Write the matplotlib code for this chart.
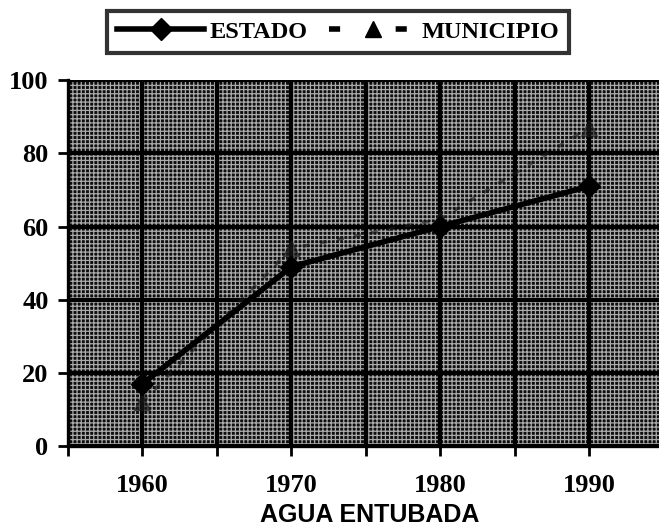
import matplotlib

matplotlib.use("Agg")
import matplotlib.pyplot as plt
from matplotlib.lines import Line2D
from matplotlib.patches import Rectangle
from matplotlib.ticker import FixedLocator, MultipleLocator

# values
years = [1960, 1970, 1980, 1990]
estado = [17, 49, 60, 71]
municipio = [12, 54, 62, 87]
year_labels = ["1960", "1970", "1980", "1990"]
y_ticks = [0, 20, 40, 60, 80, 100]

serif = "Liberation Serif"
plt.rcParams["hatch.linewidth"] = 0.9

fig = plt.figure(figsize=(6.59, 5.31), dpi=100)
fig.patch.set_facecolor("white")
ax = fig.add_axes([0.1032, 0.160, 0.8968, 0.689])

# textured dark plot area (stands in for the scanned fill pattern)
ax.add_patch(
    Rectangle(
        (0, 0), 1, 1,
        transform=ax.transAxes,
        facecolor="#0e0e0e",
        edgecolor="#ababab",
        hatch="++++",
        linewidth=0,
        zorder=0,
    )
)

ax.plot(
    years, estado,
    color="black", linewidth=4, marker="D", markersize=11, zorder=4,
)
ax.plot(
    years, municipio,
    color="#1a1a1a", linewidth=2.5, linestyle=(0, (2, 3)), marker="^",
    markersize=12, alpha=0.6, zorder=3,
)

ax.set_xlim(1955, 1994.7)
ax.set_ylim(0, 100)
ax.xaxis.set_major_locator(FixedLocator(years))
ax.xaxis.set_minor_locator(MultipleLocator(5))
ax.set_xticklabels(year_labels)
ax.set_yticks(y_ticks)

ax.grid(True, which="both", axis="x", color="black", linewidth=3, zorder=1)
ax.grid(True, which="major", axis="y", color="black", linewidth=3, zorder=1)

for side in ("top", "right"):
    ax.spines[side].set_visible(False)
for side in ("left", "bottom"):
    ax.spines[side].set_linewidth(2.4)

ax.tick_params(axis="both", which="both", direction="out", length=7, width=2)
ax.tick_params(axis="x", which="major", pad=13)
ax.tick_params(axis="y", pad=7)
for lab in ax.get_xticklabels() + ax.get_yticklabels():
    lab.set_fontfamily(serif)
    lab.set_fontweight("bold")
    lab.set_fontsize(19)

ax.set_xlabel(
    "AGUA ENTUBADA", fontfamily="Liberation Sans", fontweight="bold",
    fontsize=18,
)
ax.xaxis.set_label_coords(0.51, -0.155)

# legend proxies: the printed key shows one short dash each side of the triangle
handles = [
    Line2D([], [], color="black", linewidth=4, marker="D", markersize=11),
    Line2D([], [], color="black", linewidth=4, linestyle=(0, (2, 10)),
           marker="^", markersize=12),
]
leg = fig.legend(
    handles, ["ESTADO", "MUNICIPIO"],
    loc="center", bbox_to_anchor=(0.513, 0.940), ncol=2,
    frameon=True, fancybox=False, handlelength=3.6, handletextpad=0.2,
    columnspacing=0.9, borderpad=0.4,
    prop={"family": serif, "weight": "bold", "size": 17.5},
)
leg.get_frame().set_edgecolor("black")
leg.get_frame().set_linewidth(3)

fig.savefig("out.png", dpi=100)
